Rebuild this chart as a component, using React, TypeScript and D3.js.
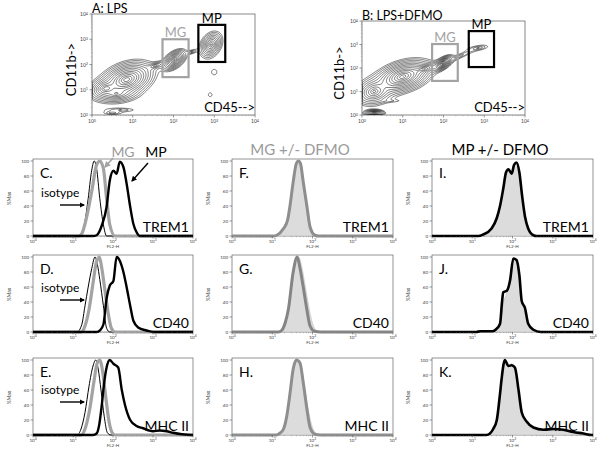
import React from 'react';
import * as d3 from 'd3';

const FONT = 'Lato, "Open Sans", sans-serif';

// ---------- data ----------
const decades = [0, 1, 2, 3, 4];
const pctTicks = [0, 20, 40, 60, 80, 100];

// contour clusters in log10 units: [cx, cy, sx, sy, rho, peak]
const clustersA = [
  [0.85, 1.4, 0.13, 0.14, 0.35, 1.0],
  [0.35, 1.05, 0.1, 0.1, 0.2, 0.25],
  [0.6, 0.85, 0.15, 0.1, 0.1, 0.1],
  [0.5, 0.08, 0.12, 0.04, 0, 0.012],
  [0.7, 0.2, 0.3, 0.06, 0, 0.008],
  [1.55, 1.95, 0.08, 0.06, 0.6, 0.04],
  [2.02, 2.18, 0.067, 0.095, 0.5, 0.35],
  [2.45, 2.5, 0.07, 0.05, 0.6, 0.015],
  [2.92, 2.78, 0.07, 0.13, 0.3, 0.2],
  [3.0, 1.7, 0.15, 0.25, 0, 0.0045],
  [2.9, 0.8, 0.12, 0.2, 0, 0.0042],
];
const clustersB = [
  [1.0, 1.63, 0.14, 0.14, 0.4, 1.0],
  [0.3, 1.0, 0.12, 0.15, 0.2, 0.2],
  [1.5, 1.95, 0.1, 0.07, 0.6, 0.15],
  [1.99, 2.2, 0.05, 0.07, 0.6, 0.5],
  [2.4, 2.5, 0.25, 0.2, 0.93, 0.01],
  [2.85, 2.85, 0.15, 0.07, 0.5, 0.012],
  [0.3, 0.08, 0.06, 0.035, 0, 0.3],
  [0.7, 0.6, 0.35, 0.06, 0, 0.004],
];
const contourLevels = [0.9, 0.58, 0.37, 0.24, 0.15, 0.1, 0.063, 0.04, 0.026, 0.017, 0.011, 0.007, 0.0045, 0.003];

const gatesA = [
  { name: 'MG', x0: 1.73, x1: 2.37, y0: 1.5, y1: 3.0 },
  { name: 'MP', x0: 2.61, x1: 3.27, y0: 2.1, y1: 3.57 },
];
const gatesB = [
  { name: 'MG', x0: 1.72, x1: 2.35, y0: 1.45, y1: 3.02 },
  { name: 'MP', x0: 2.62, x1: 3.24, y0: 2.04, y1: 3.57 },
];

// histograms: [log10 FL2-H, % of max]
const cIso = [[0,0],[1.1,0],[1.2,3],[1.3,20],[1.38,50],[1.46,85],[1.53,100],[1.59,90],[1.67,50],[1.76,15],[1.84,0],[4,0]];
const cMG = [[0,0],[1.15,0],[1.22,3],[1.34,25],[1.47,60],[1.59,95],[1.67,100],[1.76,90],[1.84,50],[1.92,15],[2.05,0],[4,0]];
const cMP = [[0,0],[1.5,0],[1.59,1],[1.72,14],[1.84,39],[1.92,74],[2.01,87],[2.09,83],[2.17,99],[2.26,92],[2.34,70],[2.43,39],[2.51,16],[2.59,5],[2.67,0],[4,0]];
const dIso = [[0,0],[1.1,0],[1.22,10],[1.3,35],[1.38,60],[1.47,85],[1.55,100],[1.61,90],[1.67,70],[1.76,35],[1.84,5],[1.92,0],[4,0]];
const dMG = [[0,0],[1.2,0],[1.3,8],[1.4,30],[1.5,65],[1.58,92],[1.66,100],[1.72,85],[1.8,55],[1.88,25],[1.96,5],[2.05,0],[4,0]];
const dMP = [[0,0],[1.6,0],[1.67,2],[1.76,10],[1.84,45],[1.92,62],[2.01,68],[2.09,100],[2.17,95],[2.26,80],[2.34,60],[2.43,35],[2.51,15],[2.63,6],[2.84,2],[3.0,0],[4,0]];
const eIso = [[0,0],[1.1,0],[1.2,8],[1.3,30],[1.4,65],[1.5,92],[1.57,100],[1.63,88],[1.7,60],[1.78,25],[1.86,3],[1.95,0],[4,0]];
const eMG = [[0,0],[1.2,0],[1.3,8],[1.42,35],[1.52,70],[1.6,95],[1.67,100],[1.74,85],[1.82,50],[1.9,18],[1.98,3],[2.05,0],[4,0]];
const eMP = [[0,0],[1.5,0],[1.59,2],[1.66,15],[1.72,40],[1.78,70],[1.84,90],[1.92,100],[2.01,95],[2.13,90],[2.22,60],[2.3,40],[2.43,20],[2.59,12],[2.75,9],[2.9,6],[3.0,5],[3.17,6],[3.34,5],[3.5,3],[3.72,1],[3.97,0],[4,0]];
const fFill = [[0,0],[1.1,0],[1.2,3],[1.3,12],[1.4,30],[1.5,68],[1.58,95],[1.64,100],[1.7,93],[1.78,65],[1.86,32],[1.94,8],[2.04,0],[4,0]];
const fLine = [[0,0],[1.05,0],[1.11,1],[1.28,10],[1.38,21],[1.44,40],[1.52,72],[1.6,97],[1.65,100],[1.7,97],[1.77,72],[1.86,40],[1.94,12],[2.06,1],[2.15,0],[4,0]];
const gFill = [[0,0],[1.2,0],[1.3,8],[1.4,28],[1.5,70],[1.6,98],[1.66,100],[1.74,85],[1.84,55],[1.94,25],[2.04,6],[2.15,0],[4,0]];
const gLine = [[0,0],[1.15,0],[1.23,2],[1.32,12],[1.4,30],[1.52,80],[1.62,100],[1.69,85],[1.77,60],[1.86,30],[1.94,8],[2.05,1],[2.2,0],[4,0]];
const hFill = [[0,0],[1.15,0],[1.25,6],[1.35,22],[1.45,55],[1.54,88],[1.62,100],[1.7,94],[1.8,65],[1.9,32],[2.0,10],[2.1,2],[2.2,0],[4,0]];
const hLine = [[0,0],[1.1,0],[1.18,2],[1.28,8],[1.36,25],[1.44,55],[1.52,88],[1.6,100],[1.69,96],[1.77,70],[1.86,35],[1.94,10],[2.06,1],[2.2,0],[4,0]];
const iFill = [[0,0],[1.2,0],[1.35,3],[1.55,15],[1.67,35],[1.76,60],[1.84,82],[1.9,87],[1.98,82],[2.05,94],[2.1,96],[2.17,82],[2.23,50],[2.3,22],[2.38,8],[2.5,0],[4,0]];
const iLine = [[0,0],[1.15,0],[1.27,2],[1.48,10],[1.61,24],[1.69,40],[1.77,63],[1.84,85],[1.9,89],[1.98,83],[2.04,95],[2.1,98],[2.17,85],[2.24,53],[2.31,26],[2.39,10],[2.52,1],[2.6,0],[4,0]];
const jFill = [[0,0],[1.3,0],[1.6,3],[1.7,15],[1.78,40],[1.86,52],[1.94,66],[2.02,95],[2.08,96],[2.15,80],[2.22,45],[2.3,28],[2.38,10],[2.5,2],[2.6,0],[4,0]];
const jLine = [[0,0],[1.1,0],[1.2,1],[1.5,1],[1.6,4],[1.69,11],[1.74,40],[1.77,53],[1.86,55],[1.94,69],[2.02,98],[2.1,96],[2.17,76],[2.23,41],[2.31,32],[2.39,11],[2.52,3],[2.7,0],[4,0]];
const kFill = [[0,0],[1.4,0],[1.5,5],[1.6,18],[1.68,48],[1.75,82],[1.82,98],[1.9,93],[1.98,95],[2.06,85],[2.14,55],[2.22,28],[2.35,15],[2.52,8],[2.8,6],[3.0,6],[3.3,5],[3.6,2],[3.9,0],[4,0]];
const kLine = [[0,0],[1.35,0],[1.44,2],[1.52,8],[1.61,20],[1.68,50],[1.73,75],[1.78,95],[1.81,100],[1.9,92],[1.98,93],[2.06,90],[2.15,60],[2.23,30],[2.35,18],[2.52,10],[2.77,7],[3.01,8],[3.26,7],[3.51,4],[3.76,2],[3.97,0],[4,0]];

const panelLetters = ['C.', 'D.', 'E.', 'F.', 'G.', 'H.', 'I.', 'J.', 'K.'];
const markers = ['TREM1', 'CD40', 'MHC II'];

// ---------- layout ----------
const colX = [[33, 193], [232, 393], [432, 593]];
const rowY = [[161, 236], [257, 332], [360, 435]];

const GRAY = '#a3a3a3';
const GRAY2 = '#8e8e8e';
const FILL = '#dcdcdc';

function Sup({ base, exp }) {
  return (
    <>
      {base}
      <tspan dy={-1.5} fontSize="0.75em">{exp}</tspan>
    </>
  );
}

function densityGrid(clusters, n) {
  const v = new Float64Array(n * n);
  for (let j = 0; j < n; j++) {
    const y = ((j + 0.5) / n) * 4;
    for (let i = 0; i < n; i++) {
      const x = ((i + 0.5) / n) * 4;
      let s = 0;
      for (const [cx, cy, sx, sy, r, h] of clusters) {
        const dx = (x - cx) / sx;
        const dy = (y - cy) / sy;
        const q = (dx * dx - 2 * r * dx * dy + dy * dy) / (1 - r * r);
        s += h * Math.exp(-Math.sqrt(q));
      }
      v[j * n + i] = s;
    }
  }
  return v;
}

function ContourPanel({ id, left, right, top, bottom, clusters, gates, title, labelX }) {
  const xs = d3.scaleLinear().domain([0, 4]).range([left, right]);
  const ys = d3.scaleLinear().domain([0, 4]).range([bottom, top]);
  const n = 160;
  const vals = densityGrid(clusters, n);
  const conts = d3.contours().size([n, n]).thresholds(contourLevels)(Array.from(vals));
  const proj = d3.geoTransform({
    point(x, y) {
      this.stream.point(xs((x / n) * 4), ys((y / n) * 4));
    },
  });
  const path = d3.geoPath(proj);
  const minor = [];
  for (let d = 0; d < 4; d++) for (let k = 2; k < 10; k++) minor.push(d + Math.log10(k));
  return (
    <g>
      <clipPath id={id}>
        <rect x={left} y={top} width={right - left} height={bottom - top} />
      </clipPath>
      <g clipPath={`url(#${id})`}>
        {conts.map((c, i) => (
          <path key={i} d={path(c)} fill="none" stroke="#111" strokeWidth={0.55} />
        ))}
      </g>
      <rect x={left} y={top} width={right - left} height={bottom - top} fill="none" stroke="#555" strokeWidth={0.7} />
      {decades.map((d) => (
        <g key={d}>
          <line x1={xs(d)} x2={xs(d)} y1={bottom} y2={bottom + 2.5} stroke="#555" strokeWidth={0.6} />
          <text x={xs(d)} y={bottom + 8} fontSize={5} textAnchor="middle" fill="#444" fontFamily={FONT}>
            <Sup base="10" exp={String(d)} />
          </text>
          <line x1={left} x2={left - 2.5} y1={ys(d)} y2={ys(d)} stroke="#555" strokeWidth={0.6} />
          <text x={left - 4} y={ys(d) + 2} fontSize={5} textAnchor="end" fill="#444" fontFamily={FONT}>
            <Sup base="10" exp={String(d)} />
          </text>
        </g>
      ))}
      {minor.map((m, i) => (
        <g key={'m' + i}>
          <line x1={xs(m)} x2={xs(m)} y1={bottom} y2={bottom + 1.2} stroke="#777" strokeWidth={0.4} />
          <line x1={left} x2={left - 1.2} y1={ys(m)} y2={ys(m)} stroke="#777" strokeWidth={0.4} />
        </g>
      ))}
      {gates.map((g) => {
        const col = g.name === 'MG' ? GRAY : '#000';
        return (
          <g key={g.name}>
            <rect x={xs(g.x0)} y={ys(g.y1)} width={xs(g.x1) - xs(g.x0)} height={ys(g.y0) - ys(g.y1)}
              fill="none" stroke={col} strokeWidth={2.2} />
            <text x={(xs(g.x0) + xs(g.x1)) / 2} y={ys(g.y1) - 2} fontSize={13} textAnchor="middle" fill={col} fontFamily={FONT}>
              {g.name}
            </text>
          </g>
        );
      })}
      <text x={left} y={top - 1.5} fontSize={12.5} fill="#000" fontFamily={FONT}>{title}</text>
      <text x={right} y={bottom - 3} fontSize={13} textAnchor="end" fill="#000" fontFamily={FONT}>CD45--&gt;</text>
      <text transform={`translate(${labelX},${(top + bottom) / 2 + 5}) rotate(-90)`} fontSize={13} textAnchor="middle" fill="#000" fontFamily={FONT}>
        CD11b-&gt;
      </text>
    </g>
  );
}

function HistPanel({ col, row, letter, marker, series }) {
  const [l, r] = colX[col];
  const [y100, y0] = rowY[row];
  const xs = d3.scaleLinear().domain([0, 4]).range([l, r]);
  const ys = d3.scaleLinear().domain([0, 100]).range([y0, y100]);
  const line = d3.line().x((d) => xs(d[0])).y((d) => ys(d[1])).curve(d3.curveMonotoneX);
  const area = d3.area().x((d) => xs(d[0])).y0(ys(0)).y1((d) => ys(d[1])).curve(d3.curveMonotoneX);
  const top = y100 - 2;
  const minor = [];
  for (let d = 0; d < 4; d++) for (let k = 2; k < 10; k++) minor.push(d + Math.log10(k));
  return (
    <g>
      <rect x={l} y={top} width={r - l} height={y0 - top} fill="#fff" stroke="#666" strokeWidth={0.7} />
      {series.map((s, i) =>
        s.kind === 'fill' ? (
          <path key={i} d={area(s.data)} fill={FILL} stroke="#bdbdbd" strokeWidth={0.6} />
        ) : (
          <path key={i} d={line(s.data)} fill="none" stroke={s.color} strokeWidth={s.width} strokeLinejoin="round" />
        )
      )}
      {decades.map((d) => (
        <g key={d}>
          <line x1={xs(d)} x2={xs(d)} y1={y0} y2={y0 + 2.5} stroke="#555" strokeWidth={0.6} />
          <text x={xs(d)} y={y0 + 6.5} fontSize={4.5} textAnchor="middle" fill="#444" fontFamily={FONT}>
            <Sup base="10" exp={String(d)} />
          </text>
        </g>
      ))}
      {minor.map((m, i) => (
        <line key={'m' + i} x1={xs(m)} x2={xs(m)} y1={y0} y2={y0 + 1.2} stroke="#777" strokeWidth={0.4} />
      ))}
      {pctTicks.map((p) => (
        <g key={p}>
          <line x1={l} x2={l - 2.5} y1={ys(p)} y2={ys(p)} stroke="#555" strokeWidth={0.6} />
          <text x={l - 4} y={ys(p) + 1.6} fontSize={4.5} textAnchor="end" fill="#444" fontFamily={FONT}>{p}</text>
        </g>
      ))}
      <text x={(l + r) / 2} y={y0 + 12} fontSize={4.5} textAnchor="middle" fill="#444" fontFamily={FONT}>FL2-H</text>
      <text transform={`translate(${l - 22},${(y0 + y100) / 2}) rotate(-90)`} fontSize={5} textAnchor="middle" fill="#444" fontFamily={FONT}>
        %Max
      </text>
      <text x={l + 7} y={y100 + 17} fontSize={14} fill="#000" fontFamily={FONT}>{letter}</text>
      <text x={r - 4} y={y0 - 4} fontSize={14} textAnchor="end" fill="#000" fontFamily={FONT}>{marker}</text>
    </g>
  );
}

export default function App() {
  const col1 = [
    [cIso, cMG, cMP],
    [dIso, dMG, dMP],
    [eIso, eMG, eMP],
  ];
  const col2 = [
    [fFill, fLine],
    [gFill, gLine],
    [hFill, hLine],
  ];
  const col3 = [
    [iFill, iLine],
    [jFill, jLine],
    [kFill, kLine],
  ];
  const isoY = [205, 300, 402];
  return (
    <svg width={600} height={450} style={{ position: 'absolute', left: 0, top: 0, background: '#fff' }} fontFamily={FONT}>
      <defs>
        <marker id="ahB" viewBox="0 0 10 10" refX="8" refY="5" markerWidth="4" markerHeight="4" orient="auto">
          <path d="M0,0 L10,5 L0,10 z" fill="#000" />
        </marker>
        <marker id="ahG" viewBox="0 0 10 10" refX="8" refY="5" markerWidth="4" markerHeight="4" orient="auto">
          <path d="M0,0 L10,5 L0,10 z" fill={GRAY} />
        </marker>
      </defs>
      <rect width={600} height={450} fill="#fff" />
      <ContourPanel id="cpA" left={92} right={255} top={14} bottom={115} clusters={clustersA} gates={gatesA} title="A: LPS" labelX={76} />
      <ContourPanel id="cpB" left={362} right={525} top={21} bottom={115} clusters={clustersB} gates={gatesB} title="B: LPS+DFMO" labelX={344} />

      {col1.map(([iso, mg, mp], r) => (
        <HistPanel key={'c1' + r} col={0} row={r} letter={panelLetters[r]} marker={markers[r]}
          series={[
            { kind: 'line', data: iso, color: '#000', width: 1 },
            { kind: 'line', data: mg, color: GRAY, width: 3.2 },
            { kind: 'line', data: mp, color: '#000', width: 2.4 },
          ]} />
      ))}
      {col2.map(([f, ln], r) => (
        <HistPanel key={'c2' + r} col={1} row={r} letter={panelLetters[3 + r]} marker={markers[r]}
          series={[
            { kind: 'fill', data: f },
            { kind: 'line', data: ln, color: r === 1 ? '#858585' : GRAY2, width: 3 },
          ]} />
      ))}
      {col3.map(([f, ln], r) => (
        <HistPanel key={'c3' + r} col={2} row={r} letter={panelLetters[6 + r]} marker={markers[r]}
          series={[
            { kind: 'fill', data: f },
            { kind: 'line', data: ln, color: '#000', width: 2.6 },
          ]} />
      ))}

      {/* column titles */}
      <text x={300} y={155} fontSize={15} textAnchor="middle" fill="#9a9a9a" fontFamily={FONT}>MG +/- DFMO</text>
      <text x={500} y={155} fontSize={15} textAnchor="middle" fill="#000" fontFamily={FONT}>MP +/- DFMO</text>

      {/* MG / MP annotations on C */}
      <text x={123} y={157} fontSize={14} textAnchor="middle" fill="#9a9a9a" fontFamily={FONT}>MG</text>
      <text x={156} y={157} fontSize={14} textAnchor="middle" fill="#000" fontFamily={FONT}>MP</text>
      <line x1={113} y1={158} x2={105} y2={167} stroke={GRAY} strokeWidth={1.6} markerEnd="url(#ahG)" />
      <line x1={148} y1={163} x2={132} y2={181} stroke="#000" strokeWidth={1.4} markerEnd="url(#ahB)" />

      {isoY.map((y, i) => (
        <g key={'iso' + i}>
          <text x={41} y={y - 8} fontSize={12} fill="#000" fontFamily={FONT}>isotype</text>
          <line x1={60} y1={y} x2={84} y2={y} stroke="#000" strokeWidth={1.4} markerEnd="url(#ahB)" />
        </g>
      ))}
    </svg>
  );
}
